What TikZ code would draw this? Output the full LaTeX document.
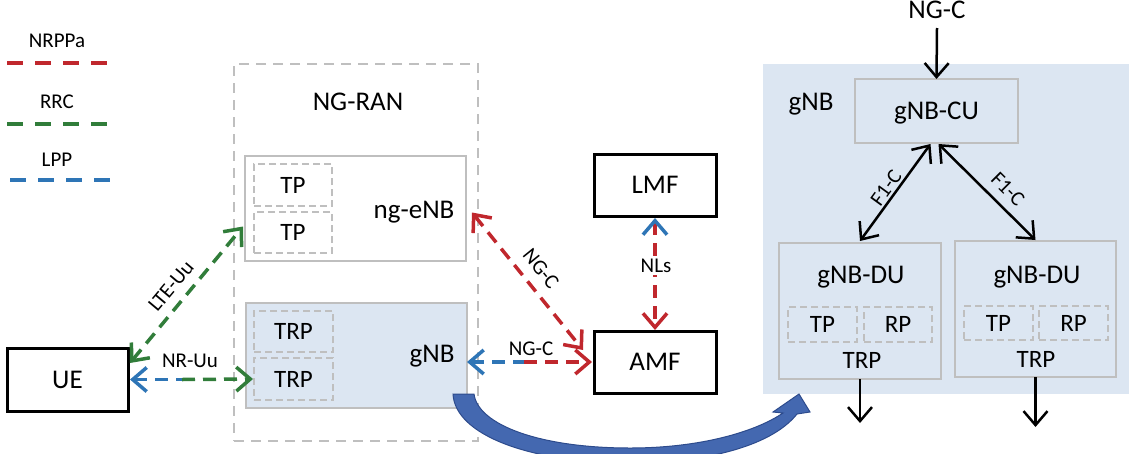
\documentclass[tikz,border=0pt]{standalone}
\usepackage{fontspec}
\setmainfont{Carlito}
\usetikzlibrary{arrows.meta,calc}
\definecolor{nrppa}{RGB}{192,39,45}
\definecolor{rrc}{RGB}{49,125,58}
\definecolor{lpp}{RGB}{46,117,182}
\definecolor{boxgray}{RGB}{191,191,191}
\definecolor{lightblue}{RGB}{220,230,242}
\definecolor{bigarrow}{RGB}{68,104,176}
\definecolor{bigarrowedge}{RGB}{45,75,140}
\tikzset{ctip/.tip={Straight Barb[length=14pt,width=24pt]}}
\begin{document}
\begin{tikzpicture}[x=1pt,y=-1pt,
  every node/.style={inner sep=0pt,outer sep=0pt},
  big/.style={font=\fontsize{27}{32}\selectfont},
  mid/.style={font=\fontsize{25}{30}\selectfont},
  small/.style={font=\fontsize{21}{25}\selectfont},
  blackbox/.style={draw=black,line width=3pt,big,text height=17.4pt,text depth=0pt},
  graybox/.style={draw=boxgray,line width=2.5pt},
  dashbox/.style={draw=boxgray,line width=2pt,dash pattern=on 7pt off 4pt,mid,text height=16.1pt,text depth=0pt},
  colline/.style={line width=3.5pt,dash pattern=on 13pt off 8pt},
  nrppaline/.style={colline,draw=nrppa},
  rrcline/.style={colline,draw=rrc},
  lppline/.style={colline,draw=lpp},
  legline/.style={line width=3.5pt,dash pattern=on 16pt off 12pt},
  blackarrow/.style={draw=black,line width=2.5pt},
]
\useasboundingbox (0,0) rectangle (1129,453);

% legend
\node[small,anchor=base] (legnrppa) at (57,47) {NRPPa};
\coordinate (ln1a) at (7,63); \coordinate (ln1b) at (107,63);
\draw[legline,nrppa] (ln1a) -- (ln1b);
\node[small,anchor=base] (legrrc) at (57,108) {RRC};
\coordinate (ln2a) at (7,124); \coordinate (ln2b) at (107,124);
\draw[legline,rrc] (ln2a) -- (ln2b);
\node[small,anchor=base] (leglpp) at (57,166) {LPP};
\coordinate (ln3a) at (10,180); \coordinate (ln3b) at (110,180);
\draw[legline,lpp] (ln3a) -- (ln3b);

% NG-RAN
\node[draw=boxgray,line width=2pt,dash pattern=on 10pt off 7pt,minimum width=244pt,minimum height=377pt] (ngran) at (356,252.5) {};
\node[big,anchor=base] (ngrantxt) at (358,110) {NG-RAN};
\node[graybox,minimum width=221pt,minimum height=105pt] (ngenb) at (355.5,208.5) {};
\node[big,anchor=base] (ngenbtxt) at (414,218) {ng-eNB};
\node[dashbox,minimum width=78pt,minimum height=42pt] (tpa) at (293,185) {TP};
\node[dashbox,minimum width=78pt,minimum height=41pt] (tpb) at (293,232.5) {TP};
\node[graybox,fill=lightblue,minimum width=221pt,minimum height=105pt] (gnb) at (356.5,355.5) {};
\node[big,anchor=base] (gnbtxt) at (432,362) {gNB};
\node[dashbox,minimum width=79pt,minimum height=41pt] (trpa) at (293.5,331.5) {TRP};
\node[dashbox,minimum width=79pt,minimum height=42pt] (trpb) at (293.5,379) {TRP};

% UE, LMF, AMF
\node[blackbox,minimum width=121pt,minimum height=63pt] (UE) at (67.5,379.5) {UE};
\node[blackbox,minimum width=122pt,minimum height=62pt] (LMF) at (655,185) {LMF};
\node[blackbox,minimum width=122pt,minimum height=62pt] (AMF) at (655,362) {AMF};

% right gNB
\node[fill=lightblue,minimum width=366pt,minimum height=330pt,anchor=north west] (gnbr) at (763,64) {};
\node[big,anchor=base] (gnbrtxt) at (811,110) {gNB};
\node[graybox,big,text height=17.4pt,text depth=0pt,minimum width=163pt,minimum height=64pt] (cu) at (936.5,111) {gNB-CU};
\node[graybox,minimum width=162pt,minimum height=136pt] (du1) at (860,311) {};
\node[graybox,minimum width=161pt,minimum height=136pt] (du2) at (1035.5,309) {};
\node[big,anchor=base] (du1txt) at (861,283) {gNB-DU};
\node[big,anchor=base] (du2txt) at (1037,283) {gNB-DU};
\node[dashbox,minimum width=69pt,minimum height=35pt] (du1tp) at (822.5,324.5) {TP};
\node[dashbox,minimum width=68pt,minimum height=35pt] (du1rp) at (898,324.5) {RP};
\node[dashbox,minimum width=69pt,minimum height=34pt] (du2tp) at (998.5,323) {TP};
\node[dashbox,minimum width=69pt,minimum height=34pt] (du2rp) at (1073.5,323) {RP};
\node[mid,anchor=base] (du1trp) at (862,368) {TRP};
\node[mid,anchor=base] (du2trp) at (1036,367) {TRP};

% right side arrows
\node[big,anchor=base] (ngctop) at (937,18) {NG-C};
\coordinate (ngctopend) at (937,28);
\draw[blackarrow,-{ctip}] (ngctopend) -- (cu.north);
\draw[blackarrow,{ctip}-{ctip}] ($(cu.south)+(-6,1)$) -- ($(du1.north)+(0,-2)$);
\draw[blackarrow,{ctip}-{ctip}] ($(cu.south)+(2,1)$) -- ($(du2.north)+(0,-1)$);
\node[small,rotate=54] (f1a) at (886,188) {F1-C};
\node[small,rotate=-45] (f1b) at (1008,189) {F1-C};
\coordinate (d1end) at (860,423);
\coordinate (d2end) at (1035.5,427);
\draw[blackarrow,-{ctip}] (du1.south) -- (d1end);
\draw[blackarrow,-{ctip}] (du2.south) -- (d2end);

% left connectors
\draw[rrcline,{ctip}-{ctip}] ($(UE.north east)+(2,15)$) -- ($(ngenb.west)+(-2,18)$);
\node[small,rotate=50] (lteuu) at (171,286) {LTE-Uu};
\coordinate (nrsplit) at (182,379.5);
\draw[lppline,{ctip}-] ($(UE.east)+(2,0)$) -- (nrsplit);
\draw[rrcline,-{ctip}] (nrsplit) -- ($(trpb.west)+(-1,0)$);
\node[small,anchor=base] (nruu) at (190,367) {NR-Uu};

\draw[nrppaline,{ctip}-{ctip}] ($(ngenb.east)+(6,4)$) -- ($(AMF.north west)+(-11,19)$);
\node[small,rotate=-51] (ngcdiag) at (541,269) {NG-C};

\coordinate (ngcsplit) at (524,362);
\draw[lppline,{ctip}-] ($(gnb.east)+(0,6.5)$) -- (ngcsplit);
\draw[nrppaline,-{ctip}] (ngcsplit) -- ($(AMF.west)+(-2,0)$);
\node[small,anchor=base] (ngch) at (531,355) {NG-C};

\draw[nrppaline,{ctip[color=lpp]}-{ctip}] ($(LMF.south)+(0,2)$) -- ($(AMF.north)+(0,-1)$);
\node[small,anchor=base,fill=white,inner sep=3pt] (nls) at (656,272) {NLs};

% big curved arrow
\fill[bigarrow,draw=bigarrowedge,line width=1pt]
  (453,394) -- (474,394)
  .. controls (478,425) and (540,448) .. (630,448)
  .. controls (700,448) and (755,432) .. (783,413)
  -- (773,412) -- (799,394) -- (810,412) -- (797,414)
  .. controls (770,448) and (700,463) .. (630,463)
  .. controls (530,463) and (455,435) .. (453,394) -- cycle;
\end{tikzpicture}
\end{document}
